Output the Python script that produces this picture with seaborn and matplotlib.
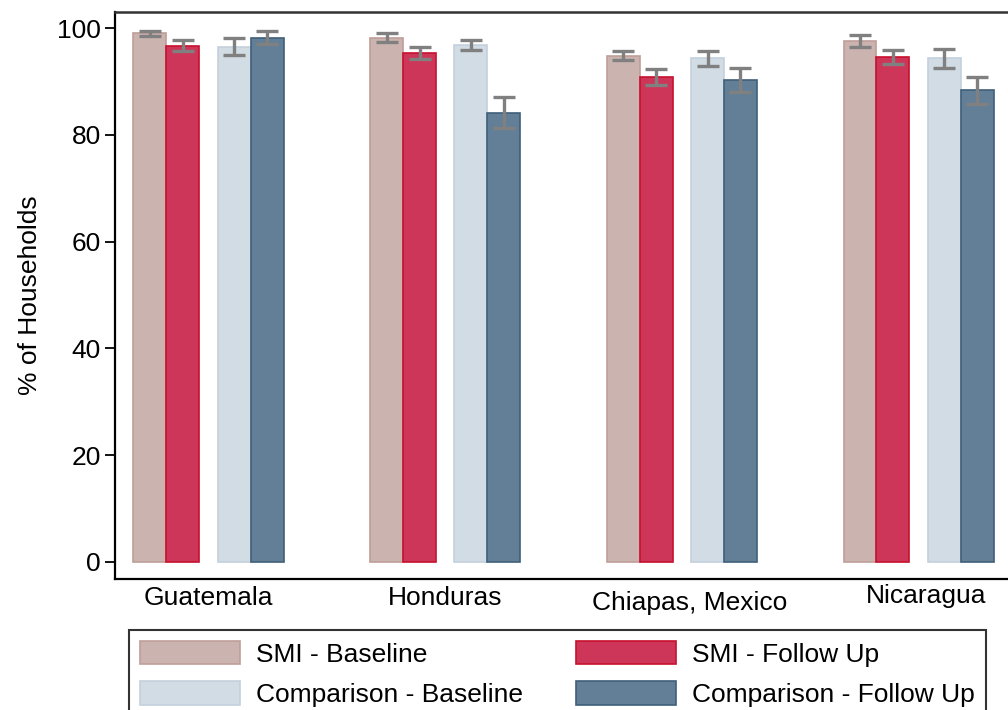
import numpy as np
import pandas as pd
import seaborn as sns
import matplotlib
matplotlib.use("Agg")
import matplotlib.pyplot as plt
from matplotlib.transforms import ScaledTranslation

# values (% of households, bar height and CI half-width)
countries = ["Guatemala", "Honduras", "Chiapas, Mexico", "Nicaragua"]
series_names = ["SMI - Baseline", "SMI - Follow Up", "Comparison - Baseline", "Comparison - Follow Up"]
smi_base = [99.0, 98.2, 94.8, 97.5]
smi_follow = [96.7, 95.3, 90.8, 94.6]
comp_base = [96.5, 96.8, 94.3, 94.3]
comp_follow = [98.2, 84.1, 90.3, 88.3]
err_smi_base = [0.5, 0.85, 0.85, 1.1]
err_smi_follow = [1.0, 1.15, 1.5, 1.3]
err_comp_base = [1.6, 1.0, 1.35, 1.8]
err_comp_follow = [1.2, 2.9, 2.25, 2.5]

fills = {"SMI - Baseline": "#cbb3af", "SMI - Follow Up": "#cd3659",
         "Comparison - Baseline": "#d1dce5", "Comparison - Follow Up": "#637f97"}
edges = {"SMI - Baseline": "#bf9e99", "SMI - Follow Up": "#c8102e",
         "Comparison - Baseline": "#c3d1dd", "Comparison - Follow Up": "#3f5f7a"}

values = [smi_base, smi_follow, comp_base, comp_follow]
errors = [err_smi_base, err_smi_follow, err_comp_base, err_comp_follow]
groups = ["SMI", "SMI", "Comparison", "Comparison"]
offsets = {"SMI": -0.178, "Comparison": 0.178}

rows = []
for name, grp, vals, errs in zip(series_names, groups, values, errors):
    for i, c in enumerate(countries):
        rows.append({"country": c, "group": grp, "series": name,
                     "value": vals[i], "err": errs[i], "pos": i + offsets[grp]})
df = pd.DataFrame(rows)

sns.set_theme(style="white")
plt.rcParams["font.family"] = ["Liberation Sans", "DejaVu Sans"]
for key in ["text.color", "axes.labelcolor", "xtick.color", "ytick.color"]:
    plt.rcParams[key] = "black"

fig = plt.figure(figsize=(10.08, 7.1), dpi=100)
ax = fig.add_axes([115/1008, 1-579/710, (1014-115)/1008, (579-12)/710])

handles = {}
for grp in ["SMI", "Comparison"]:
    sub = df[df["group"] == grp].sort_values("pos")
    order = [s for s in series_names if s in sub["series"].unique()]
    sns.barplot(data=sub, x="pos", y="value", hue="series", hue_order=order,
                palette=fills, native_scale=True, width=0.278, errorbar=None,
                saturation=1, linewidth=1.2, legend=False, ax=ax)
    for cont, name in zip(ax.containers[-len(order):], order):
        for p in cont:
            p.set_edgecolor(edges[name])
        handles[name] = cont
        s = sub[sub["series"] == name]
        xs = [p.get_x() + p.get_width()/2 for p in cont]
        ax.errorbar(xs, s["value"], yerr=s["err"], fmt="none", ecolor="#808080",
                    elinewidth=2.4, capsize=8, capthick=2.4, zorder=4)

ax.set_xlim(-0.395, 3.403)
ax.set_ylim(-3.2, 103)
ax.set_yticks(range(0, 101, 20))
ax.set_xticks(range(len(countries)))
ax.set_xticklabels(countries)
ax.set_xlabel("")
ax.set_ylabel("% of Households", fontsize=19, labelpad=11)
ax.tick_params(axis="y", direction="out", length=7, width=1.3, color="black",
               labelsize=19, pad=3, left=True)
ax.tick_params(axis="x", length=0, labelsize=19, pad=5)
for side in ["left", "bottom"]:
    ax.spines[side].set_color("black")
    ax.spines[side].set_linewidth(1.6)
ax.spines["top"].set_color("#333333")
ax.spines["top"].set_linewidth(1.8)
ax.spines["right"].set_visible(False)

# small label nudges like the original layout
nudges = {"Chiapas, Mexico": (0.08, -0.05), "Nicaragua": (0.08, 0.02)}
for lab in ax.get_xticklabels():
    if lab.get_text() in nudges:
        dx, dy = nudges[lab.get_text()]
        lab.set_transform(lab.get_transform() + ScaledTranslation(dx, dy, fig.dpi_scale_trans))

leg_order = ["SMI - Baseline", "Comparison - Baseline", "SMI - Follow Up", "Comparison - Follow Up"]
leg = fig.legend([handles[n] for n in leg_order], leg_order, loc="upper left",
                 bbox_to_anchor=(129/1008, 1-630/710), ncol=2, frameon=True,
                 fancybox=False, edgecolor="black", fontsize=19,
                 handlelength=3.8, handleheight=0.98, handletextpad=0.6,
                 columnspacing=2.0, borderpad=0.42, labelspacing=0.55,
                 borderaxespad=0)
leg.get_frame().set_linewidth(1.5)

fig.savefig("out.png", dpi=100)
